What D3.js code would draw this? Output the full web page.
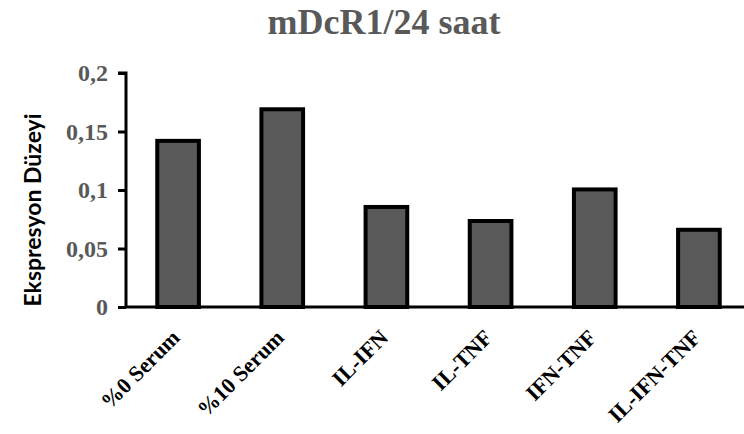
<!DOCTYPE html>
<html>
<head>
<meta charset="utf-8">
<script src="https://cdn.jsdelivr.net/npm/d3@7"></script>
<style>
  body { margin: 0; background: #fff; }
</style>
</head>
<body>
<svg id="chart" width="744" height="434"></svg>
<script>
// veriler
const kategoriler = ["%0 Serum", "%10 Serum", "IL-IFN", "IL-TNF", "IFN-TNF", "IL-IFN-TNF"];
const degerler = [0.142, 0.169, 0.0855, 0.0735, 0.1005, 0.066];
const yTikler = [0, 0.05, 0.1, 0.15, 0.2];
const yTikEtiketleri = ["0", "0,05", "0,1", "0,15", "0,2"];

const svg = d3.select("#chart"),
  width = +svg.attr("width"),
  height = +svg.attr("height");

const margin = { top: 73, left: 126, bottom: 127 };
const plotRight = 751; // eksen resmin disina tasiyor

const gri = "#595959";
const serif = "'Liberation Serif', 'Times New Roman', serif";

const x = d3.scaleBand()
  .domain(kategoriler)
  .range([margin.left, plotRight])
  .paddingInner(0.6)
  .paddingOuter(0.3);

const y = d3.scaleLinear()
  .domain([0, 0.2])
  .range([height - margin.bottom, margin.top]);

// baslik
svg.append("text")
  .attr("x", 384)
  .attr("y", 34)
  .attr("text-anchor", "middle")
  .attr("font-family", serif)
  .attr("font-weight", "bold")
  .attr("font-size", 36)
  .attr("fill", gri)
  .text("mDcR1/24 saat");

// cubuklar
svg.selectAll("rect.bar")
  .data(degerler)
  .enter()
  .append("rect")
  .attr("class", "bar")
  .attr("x", (d, i) => x(kategoriler[i]))
  .attr("y", d => y(d))
  .attr("width", x.bandwidth())
  .attr("height", d => y(0) - y(d))
  .attr("fill", gri)
  .attr("stroke", "black")
  .attr("stroke-width", 4);

// y ekseni
const yEkseni = d3.axisLeft(y)
  .tickValues(yTikler)
  .tickFormat((d, i) => yTikEtiketleri[i])
  .tickSize(8)
  .tickPadding(10);

const gy = svg.append("g")
  .attr("transform", `translate(${margin.left},0)`)
  .call(yEkseni);
gy.select(".domain").attr("stroke", "black").attr("stroke-width", 3)
  .attr("d", `M${-8},${y(0.2)}H0V${y(0)}`);
gy.selectAll(".tick line").attr("stroke", "black").attr("stroke-width", 3);
gy.selectAll(".tick text")
  .attr("font-family", serif)
  .attr("font-weight", "bold")
  .attr("font-size", 24)
  .attr("fill", gri);

// x ekseni
const xEkseni = d3.axisBottom(x).tickSize(0).tickPadding(0);
const gx = svg.append("g")
  .attr("transform", `translate(0,${y(0)})`)
  .call(xEkseni);
gx.select(".domain").attr("stroke", "black").attr("stroke-width", 3)
  .attr("d", `M${margin.left},0H${plotRight}`);
gx.selectAll(".tick text")
  .attr("font-family", serif)
  .attr("font-weight", "bold")
  .attr("font-size", 22)
  .attr("fill", "black")
  .attr("text-anchor", "end")
  .attr("y", 0)
  .attr("dy", null)
  .attr("transform", "translate(3,32) rotate(-45)");

// y ekseni basligi
svg.append("text")
  .attr("transform", `translate(41,210) rotate(-90)`)
  .attr("text-anchor", "middle")
  .attr("font-family", "Lato, 'Open Sans', sans-serif")
  .attr("font-weight", "bold")
  .attr("font-size", 23)
  .attr("fill", "black")
  .text("Ekspresyon Düzeyi");
</script>
</body>
</html>
